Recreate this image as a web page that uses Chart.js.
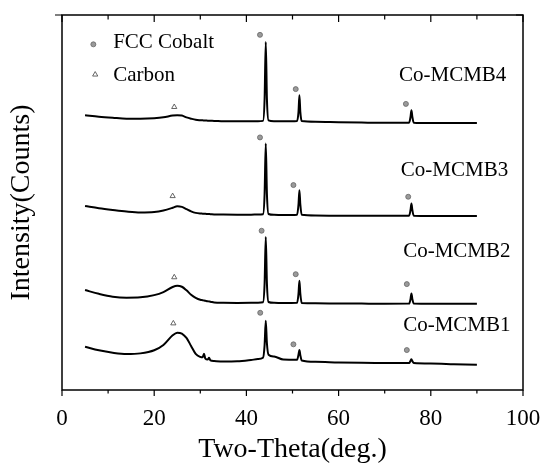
<!DOCTYPE html>
<html>
<head>
<meta charset="utf-8">
<script src="https://cdn.jsdelivr.net/npm/chart.js@4.4.0/dist/chart.umd.min.js"></script>
<style>
  html, body { margin: 0; padding: 0; background: #fff; }
</style>
</head>
<body>
<canvas id="xrdChart" width="543" height="468"></canvas>
<script>
// 2-theta positions (deg.) shared by all four patterns
const twoTheta = [5, 8, 11, 14, 17, 20, 22, 24, 25, 26, 27, 28, 29, 30, 30.5, 30.8, 31.1, 31.6, 31.9, 32.2,
  33, 35, 38, 41, 42.5, 43.6, 43.95, 44.2, 44.45, 44.8, 46, 48, 51.0, 51.3, 51.5, 51.7, 52.0, 55, 60, 65,
  70, 75.3, 75.6, 75.8, 76.0, 76.3, 80, 85, 90];

// intensities (stacked, arbitrary counts)
const mcmb4 = [5730, 5695, 5670, 5650, 5650, 5660, 5680, 5720, 5730, 5720, 5680, 5650, 5625, 5615, 5612, 5610, 5608, 5605, 5603, 5602,
  5600, 5592, 5590, 5590, 5592, 5600, 6100, 7390, 6100, 5610, 5592, 5590, 5600, 5800, 6180, 5800, 5595, 5580, 5570, 5562,
  5556, 5560, 5690, 5840, 5690, 5560, 5552, 5550, 5550];
const mcmb3 = [3670, 3620, 3580, 3545, 3525, 3535, 3570, 3630, 3665, 3650, 3600, 3550, 3515, 3500, 3497, 3495, 3493, 3490, 3488, 3486,
  3480, 3476, 3475, 3475, 3476, 3485, 3950, 5090, 3950, 3490, 3472, 3466, 3475, 3700, 4030, 3700, 3470, 3455, 3450, 3448,
  3448, 3450, 3580, 3730, 3580, 3450, 3445, 3445, 3445];
const mcmb2 = [1765, 1680, 1615, 1592, 1600, 1650, 1720, 1835, 1862, 1840, 1760, 1660, 1590, 1545, 1535, 1528, 1522, 1512, 1507, 1502,
  1482, 1475, 1472, 1475, 1480, 1490, 1920, 2970, 1920, 1495, 1475, 1470, 1475, 1680, 1975, 1680, 1470, 1465, 1460, 1458,
  1456, 1458, 1560, 1690, 1560, 1460, 1455, 1455, 1455];
const mcmb1 = [480, 400, 345, 315, 330, 400, 520, 740, 800, 780, 680, 500, 320, 250, 240, 320, 210, 190, 230, 170,
  155, 145, 150, 180, 200, 230, 520, 1070, 560, 300, 260, 190, 185, 300, 405, 290, 170, 140, 125, 115,
  110, 110, 160, 195, 155, 110, 100, 85, 70];

// phase markers
const cobaltX = [42.95, 50.7, 74.6, 42.95, 50.2, 75.1, 43.3, 50.7, 74.8, 43.0, 50.2, 74.8, 6.8];
const cobaltY = [7550, 6320, 5985, 5225, 4145, 3880, 3110, 2125, 1900, 1250, 535, 405, 7335];
const carbonX = [24.35, 24.0, 24.35, 24.15, 7.2];
const carbonY = [5915, 3895, 2055, 1010, 6650];

// text annotations
const sampleNames = ["Co-MCMB4", "Co-MCMB3", "Co-MCMB2", "Co-MCMB1"];
const sampleLabelX = [73.1, 73.5, 74.0, 74.0];
const sampleLabelY = [6635, 4485, 2635, 970];
const legendNames = ["FCC Cobalt", "Carbon"];
const legendLabelX = [11.1, 11.1];
const legendLabelY = [7380, 6635];

const serif = "'Liberation Serif', 'Times New Roman', serif";

const toPoints = (xs, ys) => xs.map((v, i) => ({ x: v, y: ys[i] }));

const curve = (values) => ({
  type: "line",
  data: toPoints(twoTheta, values),
  borderColor: "#000",
  borderWidth: 2,
  pointRadius: 0,
  cubicInterpolationMode: "monotone",
  fill: false
});

// frame, tick marks and the text labels
const frameTicks = {
  id: "frameTicks",
  afterDraw(chart) {
    const { ctx, chartArea: a, scales: { x, y } } = chart;
    ctx.save();
    ctx.strokeStyle = "#000";
    ctx.lineWidth = 1.5;
    ctx.strokeRect(a.left, a.top, a.right - a.left, a.bottom - a.top);

    ctx.lineWidth = 1.2;
    ctx.beginPath();
    x.ticks.forEach(t => {
      if (t.value % 10 !== 0) return;
      const px = x.getPixelForValue(t.value);
      const major = t.value % 20 === 0;
      ctx.moveTo(px, a.bottom);
      ctx.lineTo(px, a.bottom + (major ? 6 : 3.5));
      ctx.moveTo(px, a.top);
      ctx.lineTo(px, a.top + (major ? 7 : 4.5));
    });
    y.ticks.forEach(t => {
      if (t.value < 0 || t.value % 1000 !== 0) return;
      const py = y.getPixelForValue(t.value);
      const major = t.value % 2000 === 0;
      ctx.moveTo(a.left, py);
      ctx.lineTo(a.left - (major ? 7 : 4), py);
      ctx.moveTo(a.right, py);
      ctx.lineTo(a.right - (major ? 7 : 4), py);
    });
    ctx.stroke();

    ctx.fillStyle = "#000";
    ctx.textBaseline = "middle";
    ctx.font = "21px " + serif;
    sampleNames.forEach((name, i) => {
      ctx.fillText(name, x.getPixelForValue(sampleLabelX[i]), y.getPixelForValue(sampleLabelY[i]));
    });
    legendNames.forEach((name, i) => {
      ctx.fillText(name, x.getPixelForValue(legendLabelX[i]), y.getPixelForValue(legendLabelY[i]));
    });
    ctx.restore();
  }
};

new Chart(document.getElementById("xrdChart").getContext("2d"), {
  type: "line",
  data: {
    datasets: [
      curve(mcmb4),
      curve(mcmb3),
      curve(mcmb2),
      curve(mcmb1),
      {
        type: "scatter",
        data: toPoints(cobaltX, cobaltY),
        pointStyle: "circle",
        pointRadius: 2.5,
        backgroundColor: "#9a9a9a",
        borderColor: "#666",
        borderWidth: 0.8
      },
      {
        type: "scatter",
        data: toPoints(carbonX, carbonY),
        pointStyle: "triangle",
        pointRadius: 3,
        backgroundColor: "#fff",
        borderColor: "#555",
        borderWidth: 0.9
      }
    ]
  },
  options: {
    responsive: false,
    animation: false,
    layout: { padding: { top: 15, right: 20, bottom: 0, left: 0 } },
    plugins: { legend: { display: false }, tooltip: { enabled: false } },
    scales: {
      x: {
        type: "linear",
        min: 0,
        max: 100,
        grid: { display: false },
        border: { display: false },
        ticks: {
          stepSize: 10,
          autoSkip: false,
          maxRotation: 0,
          padding: 7,
          color: "#000",
          font: { family: serif, size: 23 },
          callback: v => (v % 20 === 0 ? v : "")
        },
        title: {
          display: true,
          text: "Two-Theta(deg.)",
          color: "#000",
          font: { family: serif, size: 28 },
          padding: { top: 0, bottom: 2 }
        },
        afterFit: s => {
          s.height = 78;
          s.paddingLeft = 0;
          s.paddingRight = 0;
        }
      },
      y: {
        type: "linear",
        min: -500,
        max: 8000,
        grid: { display: false },
        border: { display: false },
        ticks: { display: false, stepSize: 1000 },
        title: {
          display: true,
          text: "Intensity(Counts)",
          color: "#000",
          font: { family: serif, size: 28 },
          padding: { top: 5, bottom: 0 }
        },
        afterFit: s => { s.width = 62; }
      }
    }
  },
  plugins: [frameTicks]
});
</script>
</body>
</html>
